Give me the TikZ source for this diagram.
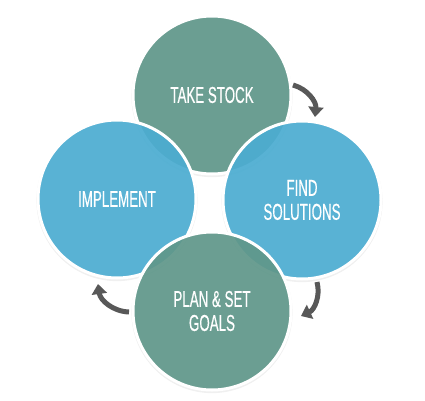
\documentclass[tikz,border=0pt]{standalone}
\usepackage{fontspec}
\setmainfont[FakeStretch=0.58,FakeBold=0.4]{Liberation Sans}
\usetikzlibrary{arrows.meta,shadows}
\definecolor{cyclegreen}{RGB}{96,152,139}
\definecolor{cycleblue}{RGB}{76,173,210}
\definecolor{cyclegray}{RGB}{88,88,88}

\begin{document}
\begin{tikzpicture}[x=1pt, y=1pt,
    stage/.style={circle, draw=white, line width=3pt, fill=#1, fill opacity=0.92, text opacity=1, minimum size=158pt, inner sep=0pt, align=center, text=white, font=\fontsize{23}{24}\selectfont, drop shadow={opacity=0.12, shadow xshift=0pt, shadow yshift=-1.5pt, shadow scale=1.02}},
    arr/.style={-{Triangle[width=15pt,length=10pt]}, line width=5pt, cyclegray}
]
\useasboundingbox (0,0) rectangle (425,400);

% the four stages, lowest first
\node[stage=cyclegreen] (take) at (212,305) {TAKE STOCK};
\node[stage=cycleblue] (impl) at (117,201) {IMPLEMENT};
\node[stage=cycleblue] (find) at (302,200) {FIND\\SOLUTIONS};
\node[stage=cyclegreen] (plan) at (212,89) {PLAN \& SET\\GOALS};

% arrow ends
\coordinate (takeout) at (293,315);
\coordinate (findin) at (315,283);
\coordinate (findout) at (317,118);
\coordinate (planin) at (301,84);
\coordinate (planout) at (129,88);
\coordinate (implin) at (98,116);

\draw[arr] (takeout) to[bend left=40] (findin);
\draw[arr] (findout) to[bend left=40] (planin);
\draw[arr] (planout) to[bend left=40] (implin);
\end{tikzpicture}
\end{document}
